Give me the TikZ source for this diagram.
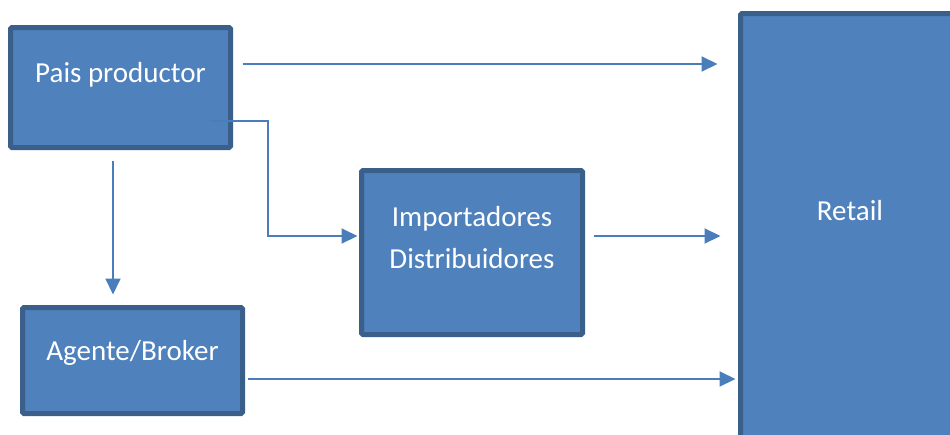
\documentclass[tikz,border=0pt]{standalone}
\usepackage{fontspec}
\setmainfont{Carlito}
\usetikzlibrary{positioning,arrows.meta}
\definecolor{boxfill}{HTML}{4F81BD}
\definecolor{boxline}{HTML}{3A5F8B}
\definecolor{arrline}{HTML}{4A7EBB}
\begin{document}
\begin{tikzpicture}[x=1pt,y=-1pt,on grid,
box/.style ={rectangle ,rounded corners=1.5pt ,fill=boxfill ,draw=boxline ,line width=5pt ,
text=white ,align=center ,font=\fontsize{29}{41}\selectfont},
arr/.style ={-{Triangle[length=16pt,width=15pt]} ,draw=arrline ,line width=2pt}]
\useasboundingbox (0,0) rectangle (950,434);
\clip (0,0) rectangle (950,434);
\node[box ,minimum width=220pt ,minimum height=120pt] (pais) at (120.5,87.5) {Pais productor\\[-10pt] \mbox{}};
\node[box ,minimum width=220pt ,minimum height=106pt] (agente) [below right=273pt and 12pt of pais] {Agente/Broker\\[-20pt] \mbox{}};
\node[box ,minimum width=221pt ,minimum height=164pt] (imp) [below right=165pt and 351.5pt of pais] {Importadores\\[1pt]Distribuidores\\[-10pt] \mbox{}};
\node[box ,minimum width=219pt ,minimum height=426pt] (retail) [below right=139pt and 729.5pt of pais] {Retail\\[-8pt] \mbox{}};
\draw[arr] ([xshift=9.5pt,yshift=23.5pt]pais.east) -- ([xshift=-20.5pt,yshift=162.5pt]retail.west);
\draw[arr] ([xshift=89.5pt,yshift=-33.5pt]pais.center) -- ++(58,0) |- ([xshift=-1.5pt,yshift=16.5pt]imp.west);
\draw[arr] ([xshift=-7.5pt,yshift=-10.5pt]pais.south) -- ([xshift=-19.5pt,yshift=10.5pt]agente.north);
\draw[arr] ([xshift=8.5pt,yshift=16.5pt]imp.east) -- ([xshift=-17.5pt,yshift=-9.5pt]retail.west);
\draw[arr] ([xshift=2.5pt,yshift=-18.5pt]agente.east) -- ([xshift=-2.5pt,yshift=-152.5pt]retail.west);
\end{tikzpicture}
\end{document}
